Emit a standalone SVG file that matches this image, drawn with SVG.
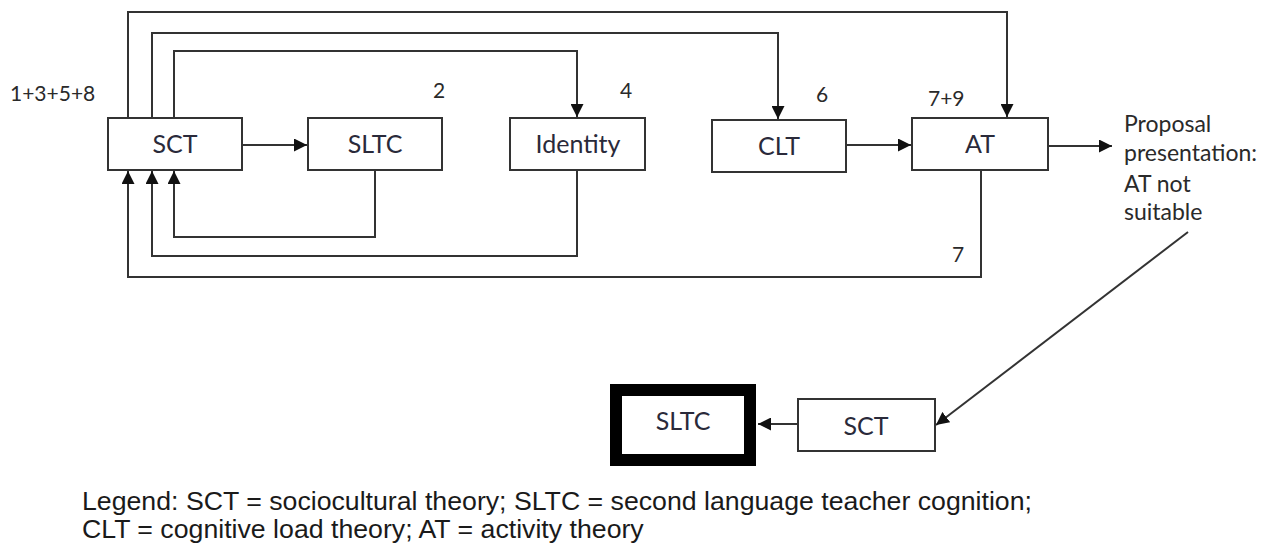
<svg xmlns="http://www.w3.org/2000/svg" width="1270" height="546" viewBox="0 0 1270 546">
<style>
.box{fill:#fff;stroke:#333;stroke-width:2}
.lbl{font-family:Lato,"Liberation Sans",sans-serif;font-size:25px;fill:#2a2a3a;text-anchor:middle}
.num{font-family:Lato,"Liberation Sans",sans-serif;font-size:21px;fill:#2a2a2a}
.prop{font-family:Lato,"Liberation Sans",sans-serif;font-size:23px;fill:#2a2a2a}
.ln{fill:none;stroke:#333;stroke-width:2}
.leg{font-family:"Liberation Sans",Arial,sans-serif;font-size:26.7px;fill:#1a1a1a}
</style>
<defs>
<marker id="ah" viewBox="0 0 10 10" refX="10" refY="5" markerWidth="13" markerHeight="13" markerUnits="userSpaceOnUse" orient="auto">
<path d="M0,0 L10,5 L0,10 Z" fill="#111"/>
</marker>
</defs>
<rect width="1270" height="546" fill="#fff"/>
<g id="connectors">
<path class="ln" d="M242,145 H307" marker-end="url(#ah)"/>
<path class="ln" d="M846,145 H911" marker-end="url(#ah)"/>
<path class="ln" d="M1048,146 H1112" marker-end="url(#ah)"/>
<path class="ln" d="M128,118 V12 H1007 V117" marker-end="url(#ah)"/>
<path class="ln" d="M152,118 V33 H778 V119" marker-end="url(#ah)"/>
<path class="ln" d="M174,118 V51 H577 V117" marker-end="url(#ah)"/>
<path class="ln" d="M375,170 V237 H174 V171" marker-end="url(#ah)"/>
<path class="ln" d="M577,170 V256 H152 V171" marker-end="url(#ah)"/>
<path class="ln" d="M981,170 V277 H128 V171" marker-end="url(#ah)"/>
<path class="ln" d="M1188,232 L936,425" marker-end="url(#ah)"/>
<path class="ln" d="M798,424 H758" marker-end="url(#ah)"/>
</g>
<g id="node-sct">
<rect class="box" x="108" y="118" width="134" height="52"/>
<text class="lbl" x="175" y="153">SCT</text>
</g>
<g id="node-sltc">
<rect class="box" x="308" y="118" width="134" height="52"/>
<text class="lbl" x="375" y="153">SLTC</text>
</g>
<g id="node-identity">
<rect class="box" x="510" y="118" width="135" height="52"/>
<text class="lbl" x="578" y="153">Identity</text>
</g>
<g id="node-clt">
<rect class="box" x="712" y="120" width="134" height="52"/>
<text class="lbl" x="779" y="155">CLT</text>
</g>
<g id="node-at">
<rect class="box" x="912" y="118" width="136" height="52"/>
<text class="lbl" x="980" y="153">AT</text>
</g>
<g id="node-sct2">
<rect class="box" x="798" y="399" width="137" height="52"/>
<text class="lbl" x="866" y="435">SCT</text>
</g>
<g id="node-sltc2">
<rect x="616" y="390" width="134" height="70" fill="#fff" stroke="#000" stroke-width="12"/>
<text class="lbl" x="683" y="430">SLTC</text>
</g>
<g id="labels">
<text class="num" x="10" y="101">1+3+5+8</text>
<text class="num" x="433" y="98">2</text>
<text class="num" x="620" y="98">4</text>
<text class="num" x="816" y="102">6</text>
<text class="num" x="928" y="106">7+9</text>
<text class="num" x="952" y="262">7</text>
<text class="prop" x="1124" y="132">Proposal</text>
<text class="prop" x="1124" y="161">presentation:</text>
<text class="prop" x="1124" y="192">AT not</text>
<text class="prop" x="1124" y="220">suitable</text>
</g>
<g id="legend">
<text class="leg" x="82" y="510">Legend: SCT = sociocultural theory; SLTC = second language teacher cognition;</text>
<text class="leg" x="82" y="538">CLT = cognitive load theory; AT = activity theory</text>
</g>
</svg>
